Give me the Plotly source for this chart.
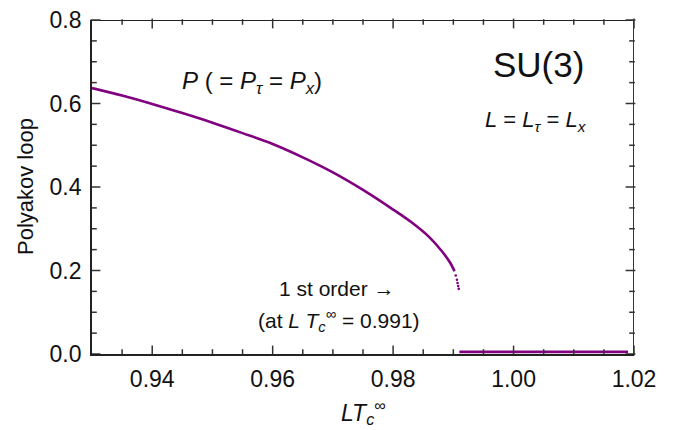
import plotly.graph_objects as go

# Ordered branch
x_ord = [0.930, 0.935, 0.940, 0.945, 0.950, 0.955, 0.960, 0.965, 0.970, 0.975,
         0.980, 0.983, 0.986, 0.988, 0.9895, 0.9902]
p_ord = [0.637, 0.619, 0.599, 0.577, 0.554, 0.529, 0.503, 0.471, 0.435, 0.393,
         0.346, 0.316, 0.280, 0.248, 0.218, 0.198]
# sparse dots at the end of the ordered branch
x_end = [0.9904, 0.9906, 0.9907, 0.9908, 0.9909]
p_end = [0.188, 0.178, 0.170, 0.163, 0.156]
# Disordered branch
x_dis = [0.991, 1.000, 1.010, 1.019]
p_dis = [0.005, 0.005, 0.005, 0.005]

x_range = [0.93, 1.02]
y_range = [0.0, 0.8]
x_ticks = [0.94, 0.96, 0.98, 1.00, 1.02]
x_ticklabels = ["0.94", "0.96", "0.98", "1.00", "1.02"]
x_minor = [0.935, 0.945, 0.95, 0.955, 0.965, 0.97, 0.975, 0.985, 0.99, 0.995,
           1.005, 1.01, 1.015]
y_ticks = [0.0, 0.2, 0.4, 0.6, 0.8]
y_ticklabels = ["0.0", "0.2", "0.4", "0.6", "0.8"]
y_minor = [0.05, 0.1, 0.15, 0.25, 0.3, 0.35, 0.45, 0.5, 0.55, 0.65, 0.7, 0.75]

PURPLE = "#800080"
FRAME = "#222222"
TICK = "#333333"
FONT = "Liberation Sans, Arial, sans-serif"
W, H = 673, 430
ML, MR, MT, MB = 92, 39, 20, 76
PW, PH = W - ML - MR, H - MT - MB
dx_px = (x_range[1] - x_range[0]) / PW   # data units per pixel
dy_px = (y_range[1] - y_range[0]) / PH

fig = go.Figure()
fig.add_trace(go.Scatter(x=x_ord, y=p_ord, mode="lines",
                         line=dict(color=PURPLE, width=2.6, shape="spline", smoothing=1.0),
                         showlegend=False, hoverinfo="skip"))
fig.add_trace(go.Scatter(x=x_end, y=p_end, mode="markers",
                         marker=dict(color=PURPLE, size=2.6),
                         showlegend=False, hoverinfo="skip"))
fig.add_trace(go.Scatter(x=x_dis, y=p_dis, mode="lines",
                         line=dict(color=PURPLE, width=2.6),
                         showlegend=False, hoverinfo="skip"))

# frame (top and right edges) drawn from the axis ranges
fig.add_trace(go.Scatter(x=[x_range[0], x_range[1], x_range[1]],
                         y=[y_range[1], y_range[1], y_range[0]], mode="lines",
                         line=dict(color=FRAME, width=1.8), cliponaxis=False,
                         showlegend=False, hoverinfo="skip"))


def tick_marks(vals, length, horizontal_axis):
    """Inside tick marks on both opposite sides of the frame."""
    xs, ys = [], []
    for v in vals:
        if horizontal_axis:
            xs += [v, v]
            ys += [y_range[0] + length / 2 * dy_px, y_range[1] - length / 2 * dy_px]
        else:
            ys += [v, v]
            xs += [x_range[0] + length / 2 * dx_px, x_range[1] - length / 2 * dx_px]
    sym = "line-ns" if horizontal_axis else "line-ew"
    return go.Scatter(x=xs, y=ys, mode="markers", cliponaxis=False,
                      marker=dict(symbol=sym, size=length,
                                  line=dict(color=TICK, width=1.5)),
                      showlegend=False, hoverinfo="skip")


fig.add_trace(tick_marks(x_ticks, 7, True))
fig.add_trace(tick_marks(x_minor, 4, True))
fig.add_trace(tick_marks(y_ticks, 7, False))
fig.add_trace(tick_marks(y_minor, 4, False))

axis_common = dict(showgrid=False, zeroline=False, showline=True, linecolor=FRAME,
                   linewidth=1.8, mirror=False, ticks="", automargin=False,
                   tickfont=dict(family=FONT, size=23, color="#111"))

fig.update_xaxes(range=x_range, tickmode="array", tickvals=x_ticks,
                 ticktext=x_ticklabels, ticklabelstandoff=3, **axis_common)
fig.update_yaxes(range=y_range, tickmode="array", tickvals=y_ticks,
                 ticktext=y_ticklabels, ticklabelstandoff=4, **axis_common)

ann_font = dict(family=FONT, color="#111")
annotations = [
    dict(text="<i>P</i> ( = <i>P</i><sub><i>τ</i></sub> = <i>P</i><sub><i>x</i></sub>)",
         x=0.9566, y=0.650, xref="x", yref="y", showarrow=False,
         font=dict(size=24, **ann_font)),
    dict(text="SU(3)", x=1.0042, y=0.693, xref="x", yref="y", showarrow=False,
         font=dict(size=35, **ann_font)),
    dict(text="<i>L</i> = <i>L</i><sub><i>τ</i></sub> = <i>L</i><sub><i>x</i></sub>",
         x=1.0037, y=0.558, xref="x", yref="y", showarrow=False,
         font=dict(size=22, **ann_font)),
    dict(text="1 st order →", x=0.9707, y=0.157, xref="x", yref="y", showarrow=False,
         font=dict(size=21, **ann_font)),
    dict(text="(at <i>L T</i><sub><i>c</i></sub><sup>∞</sup> = 0.991)",
         x=0.971, y=0.080, xref="x", yref="y", showarrow=False,
         font=dict(size=21, **ann_font)),
    dict(text="Polyakov loop", x=-0.1236, y=0.5, xref="paper", yref="paper",
         showarrow=False, textangle=-90, xanchor="center", yanchor="middle",
         font=dict(size=22, **ann_font)),
    dict(text="<i>LT</i><sub><i>c</i></sub><sup>∞</sup>", x=0.5, y=-0.175,
         xref="paper", yref="paper", showarrow=False, xanchor="center",
         yanchor="middle", font=dict(size=23, **ann_font)),
]

fig.update_layout(width=W, height=H, margin=dict(l=ML, r=MR, t=MT, b=MB),
                  paper_bgcolor="white", plot_bgcolor="white",
                  annotations=annotations, font=dict(family=FONT))

fig.write_html("out.html", config={"displayModeBar": False},
               post_script="document.body.style.margin='0';")
